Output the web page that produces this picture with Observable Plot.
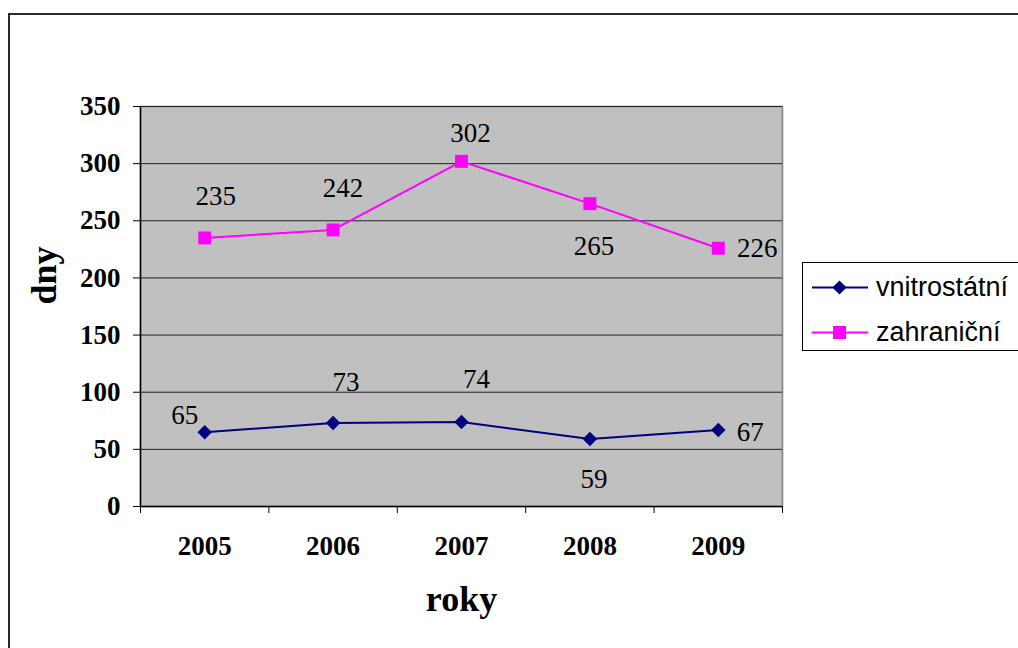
<!DOCTYPE html>
<html>
<head>
<meta charset="utf-8">
<script src="https://cdn.jsdelivr.net/npm/d3@7"></script>
<script src="https://cdn.jsdelivr.net/npm/@observablehq/plot@0.6"></script>
<style>
  html, body { margin: 0; padding: 0; background: #fff; }
  #wrap { position: relative; width: 1018px; height: 648px; overflow: hidden; background: #fff; }
  #outer { position: absolute; left: 8px; top: 13px; width: 1100px; height: 700px; border: 2px solid #2a2a2a; box-sizing: border-box; }
  #chart { position: absolute; left: 0; top: 0; }
  #chart text { font-family: "Liberation Serif", "Times New Roman", serif; }
  #legend { position: absolute; left: 802px; top: 262px; width: 260px; height: 89px; border: 1px solid #000; background: #fff; box-sizing: border-box; }
  .item { position: absolute; left: 9px; height: 30px; display: flex; align-items: center; font-family: "Liberation Sans", Arial, sans-serif; font-size: 27px; color: #000; }
  .item svg { margin-right: 8px; }
</style>
</head>
<body>
<div id="wrap">
  <div id="outer"></div>
  <div id="chart"></div>
  <div id="legend"></div>
</div>
<script>
// ---- data ----
const years = [2005, 2006, 2007, 2008, 2009];
const vnitrostatni = [65, 73, 74, 59, 67];
const zahranicni = [235, 242, 302, 265, 226];
const seriesNames = ["vnitrostátní", "zahraniční"];
const yTicks = [0, 50, 100, 150, 200, 250, 300, 350];
const xTitle = "roky";
const yTitle = "dny";

// ---- styling / layout config ----
const colors = ["#000080", "#ff00ff"];
const labelOffsets = [
  [[-20, -17], [13, -41], [15, -43], [4, 40], [32, 2]],
  [[11, -42], [10, -42], [9, -28], [4, 43], [39, 0]]
];
const serif = "Liberation Serif";

const seriesValues = [vnitrostatni, zahranicni];
const rows = seriesValues.map((vals, s) => years.map((yr, i) => ({year: yr, value: vals[i], series: seriesNames[s], si: s, i})));
const boundaries = [...years.map(y => y - 0.5), years[years.length - 1] + 0.5];

const labelMarks = [];
rows.forEach((r, s) => r.forEach((d, i) => {
  labelMarks.push(Plot.text([d], {
    x: "year", y: "value", text: dd => String(dd.value),
    dx: labelOffsets[s][i][0], dy: labelOffsets[s][i][1],
    fontSize: 27, fontFamily: serif, fill: "#000"
  }));
}));

const chart = Plot.plot({
  width: 1018,
  height: 648,
  marginLeft: 140,
  marginRight: 236,
  marginTop: 106,
  marginBottom: 142,
  style: {background: "transparent", overflow: "visible", fontFamily: serif},
  x: {type: "linear", domain: [years[0] - 0.5, years[years.length - 1] + 0.5]},
  y: {type: "linear", domain: [0, 350]},
  marks: [
    Plot.frame({fill: "#c0c0c0", stroke: "#808080", strokeWidth: 1.5}),
    Plot.ruleY(yTicks.slice(1), {stroke: "#222", strokeWidth: 1}),
    Plot.ruleX([boundaries[0]], {stroke: "#000", strokeWidth: 1.5}),
    Plot.ruleY([0], {stroke: "#000", strokeWidth: 1.5}),
    Plot.axisY({ticks: yTicks, tickSize: 7, tickPadding: 13, fontSize: 27, fontWeight: "bold", fontFamily: serif, label: null, stroke: "#000"}),
    Plot.axisX({ticks: boundaries, tickSize: 7, tickFormat: () => "", label: null, stroke: "#000"}),
    Plot.axisX({ticks: years, tickSize: 0, tickPadding: 29, tickFormat: d => String(d), fontSize: 27, fontWeight: "bold", fontFamily: serif, label: null}),
    Plot.line(rows[0], {x: "year", y: "value", stroke: colors[0], strokeWidth: 2}),
    Plot.line(rows[1], {x: "year", y: "value", stroke: colors[1], strokeWidth: 2}),
    Plot.dot(rows[0], {x: "year", y: "value", symbol: "square", rotate: 45, r: 5.8, fill: colors[0], stroke: "none"}),
    Plot.dot(rows[1], {x: "year", y: "value", symbol: "square", r: 7.3, fill: colors[1], stroke: "none"}),
    ...labelMarks,
    Plot.text([xTitle], {frameAnchor: "bottom", dy: 104, fontSize: 36, fontWeight: "bold", fontFamily: serif, fill: "#000"}),
    Plot.text([yTitle], {frameAnchor: "left", dx: -96, dy: -2, rotate: -90, fontSize: 36, fontWeight: "bold", fontFamily: serif, fill: "#000"})
  ]
});
document.getElementById("chart").appendChild(chart);

// ---- legend ----
const legend = document.getElementById("legend");
seriesNames.forEach((name, s) => {
  const item = document.createElement("div");
  item.className = "item";
  item.style.top = (s === 0 ? 9 : 54) + "px";
  const marker = s === 0
    ? `<rect x="22.5" y="7.5" width="10" height="10" fill="${colors[0]}" transform="rotate(45 27.5 12.5)"/>`
    : `<rect x="21" y="6" width="13" height="13" fill="${colors[1]}"/>`;
  item.innerHTML = `<svg width="56" height="25"><line x1="0" x2="56" y1="12.5" y2="12.5" stroke="${colors[s]}" stroke-width="2"/>${marker}</svg><span>${name}</span>`;
  legend.appendChild(item);
});
</script>
</body>
</html>
